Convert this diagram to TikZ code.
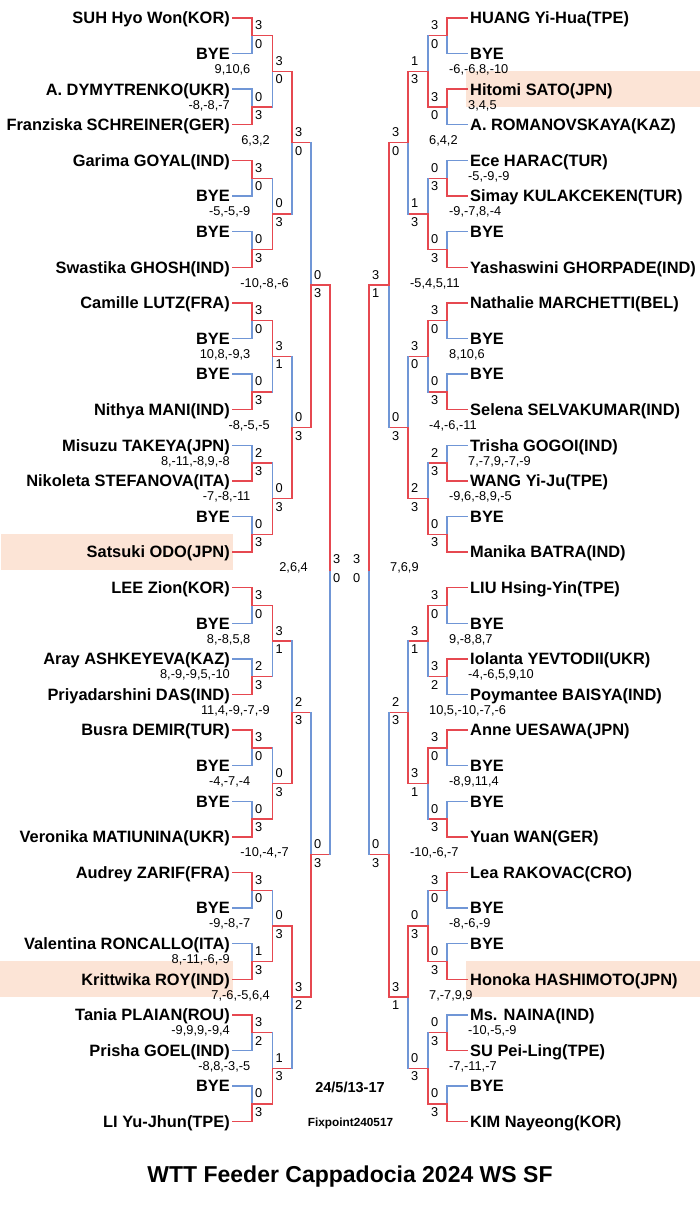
\documentclass[tikz,border=0pt]{standalone}
\usepackage{fontspec}
\setmainfont{Liberation Sans}
\definecolor{wred}{RGB}{230,72,80}
\definecolor{wblue}{RGB}{112,150,214}
\definecolor{hl}{RGB}{252,228,214}
\def\vL#1{\ifcase#1\or252\or272.5\or292\or311\or330\or349\fi}
\def\vR#1{\ifcase#1\or447\or428\or408\or389\or369\or350\fi}
\newcommand\brmatch[6]{%
 \pgfmathsetmacro\rt{#3*2^(#2)+(2^(#2-1)-1)/2}%
 \pgfmathsetmacro\rb{\rt+2^(#2-1)}%
 \pgfmathsetmacro\yt{18+35.6*\rt}%
 \pgfmathsetmacro\yb{18+35.6*\rb}%
 \pgfmathsetmacro\ym{(\yt+\yb)/2}%
 \edef\vv{\csname v#1\endcsname{#2}}%
 \edef\vn{\csname v#1\endcsname{\the\numexpr#2+1\relax}}%
 \ifnum#4>#5 \def\ct{wred}\def\cb{wblue}\else\def\ct{wblue}\def\cb{wred}\fi
 \coordinate (#1#2-#3t) at (\vv,\yt);
 \coordinate (#1#2-#3b) at (\vv,\yb);
 \coordinate (#1#2-#3) at (\vv,\ym);
 \ifnum#2=1
   \edef\pt{#1n\the\numexpr2*#3\relax.\ifx L#1east\else west\fi}%
   \edef\pb{#1n\the\numexpr2*#3+1\relax.\ifx L#1east\else west\fi}%
   \draw[ln,draw=\ct] (\pt) -- (#1#2-#3t);
   \draw[ln,draw=\cb] (\pb) -- (#1#2-#3b);
 \else
   \edef\pt{#1\the\numexpr#2-1\relax-\the\numexpr2*#3\relax}%
   \edef\pb{#1\the\numexpr#2-1\relax-\the\numexpr2*#3+1\relax}%
   \draw[ln,draw=wred] (\pt) -- (#1#2-#3t);
   \draw[ln,draw=wred] (\pb) -- (#1#2-#3b);
 \fi
 \draw[ln,draw=\cb] (#1#2-#3b) -- (#1#2-#3);
 \draw[ln,draw=\ct] (#1#2-#3t) -- (#1#2-#3);
 \ifx L#1
   \node[lab,anchor=west] (#1#2-#3sa) at ({\vv+3},{\ym-10.5}) {#4};
   \node[lab,anchor=west] (#1#2-#3sb) at ({\vv+3},{\ym+8}) {#5};
   \if\relax\detokenize{#6}\relax\else
     \node[lab,anchor=east] (#1#2-#3g) at ({\vv-22},{\ym-2.5}) {#6};
   \fi
 \else
   \node[lab,anchor=west] (#1#2-#3sa) at ({\vn+3},{\ym-10.5}) {#4};
   \node[lab,anchor=west] (#1#2-#3sb) at ({\vn+3},{\ym+8}) {#5};
   \if\relax\detokenize{#6}\relax\else
     \node[lab,anchor=west] (#1#2-#3g) at ({\vv+21},{\ym-2.5}) {#6};
   \fi
 \fi
}
\begin{document}
\begin{tikzpicture}[x=1pt,y=-1pt,
  nm/.style={font=\fontsize{16.4}{18}\selectfont\bfseries, inner xsep=3pt, inner ysep=0pt, text height=11.7pt, text depth=0pt},
  lab/.style={font=\fontsize{12.8}{14}\selectfont, inner sep=0pt, text height=9.2pt, text depth=0pt},
  ln/.style={line width=1.4pt, line cap=rect},
  info/.style={inner sep=0pt, text depth=0pt}]
\fill[white] (0,0) rectangle (700,1212);
\useasboundingbox (0,0) rectangle (700,1212);
% highlights
\fill[hl] (1,534.2) rectangle (233,570.2);
\fill[hl] (0,961.2) rectangle (233,997.2);
\fill[hl] (466,71.2) rectangle (700,107.2);
\fill[hl] (466,961.2) rectangle (700,997.2);
% names
\foreach \n [count=\i from 0] in {SUH Hyo Won(KOR),BYE,A. DYMYTRENKO(UKR),Franziska SCHREINER(GER),Garima GOYAL(IND),BYE,BYE,Swastika GHOSH(IND),Camille LUTZ(FRA),BYE,BYE,Nithya MANI(IND),Misuzu TAKEYA(JPN),Nikoleta STEFANOVA(ITA),BYE,Satsuki ODO(JPN),LEE Zion(KOR),BYE,Aray ASHKEYEVA(KAZ),Priyadarshini DAS(IND),Busra DEMIR(TUR),BYE,BYE,Veronika MATIUNINA(UKR),Audrey ZARIF(FRA),BYE,Valentina RONCALLO(ITA),Krittwika ROY(IND),Tania PLAIAN(ROU),Prisha GOEL(IND),BYE,LI Yu-Jhun(TPE)}
  \node[nm,anchor=east] (Ln\i) at (233,{18+35.6*\i}) {\n};
\foreach \n [count=\i from 0] in {HUANG Yi-Hua(TPE),BYE,Hitomi SATO(JPN),A. ROMANOVSKAYA(KAZ),Ece HARAC(TUR),Simay KULAKCEKEN(TUR),BYE,Yashaswini GHORPADE(IND),Nathalie MARCHETTI(BEL),BYE,BYE,Selena SELVAKUMAR(IND),Trisha GOGOI(IND),WANG Yi-Ju(TPE),BYE,Manika BATRA(IND),LIU Hsing-Yin(TPE),BYE,Iolanta YEVTODII(UKR),Poymantee BAISYA(IND),Anne UESAWA(JPN),BYE,BYE,Yuan WAN(GER),Lea RAKOVAC(CRO),BYE,BYE,Honoka HASHIMOTO(JPN),Ms. NAINA(IND),SU Pei-Ling(TPE),BYE,KIM Nayeong(KOR)}
  \node[nm,anchor=west] (Rn\i) at (467,{18+35.6*\i}) {\n};
% left side
\brmatch{L}{1}{0}{3}{0}{}
\brmatch{L}{1}{1}{0}{3}{-8,-8,-7}
\brmatch{L}{1}{2}{3}{0}{}
\brmatch{L}{1}{3}{0}{3}{}
\brmatch{L}{1}{4}{3}{0}{}
\brmatch{L}{1}{5}{0}{3}{}
\brmatch{L}{1}{6}{2}{3}{8,-11,-8,9,-8}
\brmatch{L}{1}{7}{0}{3}{}
\brmatch{L}{1}{8}{3}{0}{}
\brmatch{L}{1}{9}{2}{3}{8,-9,-9,5,-10}
\brmatch{L}{1}{10}{3}{0}{}
\brmatch{L}{1}{11}{0}{3}{}
\brmatch{L}{1}{12}{3}{0}{}
\brmatch{L}{1}{13}{1}{3}{8,-11,-6,-9}
\brmatch{L}{1}{14}{3}{2}{-9,9,9,-9,4}
\brmatch{L}{1}{15}{0}{3}{}
\brmatch{L}{2}{0}{3}{0}{9,10,6}
\brmatch{L}{2}{1}{0}{3}{-5,-5,-9}
\brmatch{L}{2}{2}{3}{1}{10,8,-9,3}
\brmatch{L}{2}{3}{0}{3}{-7,-8,-11}
\brmatch{L}{2}{4}{3}{1}{8,-8,5,8}
\brmatch{L}{2}{5}{0}{3}{-4,-7,-4}
\brmatch{L}{2}{6}{0}{3}{-9,-8,-7}
\brmatch{L}{2}{7}{1}{3}{-8,8,-3,-5}
\brmatch{L}{3}{0}{3}{0}{6,3,2}
\brmatch{L}{3}{1}{0}{3}{-8,-5,-5}
\brmatch{L}{3}{2}{2}{3}{11,4,-9,-7,-9}
\brmatch{L}{3}{3}{3}{2}{7,-6,-5,6,4}
\brmatch{L}{4}{0}{0}{3}{-10,-8,-6}
\brmatch{L}{4}{1}{0}{3}{-10,-4,-7}
\brmatch{L}{5}{0}{3}{0}{2,6,4}
% right side
\brmatch{R}{1}{0}{3}{0}{}
\brmatch{R}{1}{1}{3}{0}{3,4,5}
\brmatch{R}{1}{2}{0}{3}{-5,-9,-9}
\brmatch{R}{1}{3}{0}{3}{}
\brmatch{R}{1}{4}{3}{0}{}
\brmatch{R}{1}{5}{0}{3}{}
\brmatch{R}{1}{6}{2}{3}{7,-7,9,-7,-9}
\brmatch{R}{1}{7}{0}{3}{}
\brmatch{R}{1}{8}{3}{0}{}
\brmatch{R}{1}{9}{3}{2}{-4,-6,5,9,10}
\brmatch{R}{1}{10}{3}{0}{}
\brmatch{R}{1}{11}{0}{3}{}
\brmatch{R}{1}{12}{3}{0}{}
\brmatch{R}{1}{13}{0}{3}{}
\brmatch{R}{1}{14}{0}{3}{-10,-5,-9}
\brmatch{R}{1}{15}{0}{3}{}
\brmatch{R}{2}{0}{1}{3}{-6,-6,8,-10}
\brmatch{R}{2}{1}{1}{3}{-9,-7,8,-4}
\brmatch{R}{2}{2}{3}{0}{8,10,6}
\brmatch{R}{2}{3}{2}{3}{-9,6,-8,9,-5}
\brmatch{R}{2}{4}{3}{1}{9,-8,8,7}
\brmatch{R}{2}{5}{3}{1}{-8,9,11,4}
\brmatch{R}{2}{6}{0}{3}{-8,-6,-9}
\brmatch{R}{2}{7}{0}{3}{-7,-11,-7}
\brmatch{R}{3}{0}{3}{0}{6,4,2}
\brmatch{R}{3}{1}{0}{3}{-4,-6,-11}
\brmatch{R}{3}{2}{2}{3}{10,5,-10,-7,-6}
\brmatch{R}{3}{3}{3}{1}{7,-7,9,9}
\brmatch{R}{4}{0}{3}{1}{-5,4,5,11}
\brmatch{R}{4}{1}{0}{3}{-10,-6,-7}
\brmatch{R}{5}{0}{3}{0}{7,6,9}
% info texts
\node[info,font=\fontsize{14.5}{16}\selectfont\bfseries,text height=10.4pt] (date) at (350,1087) {24/5/13-17};
\node[info,font=\fontsize{11.8}{13}\selectfont\bfseries,text height=8.5pt] (fix) at (350.5,1122) {Fixpoint240517};
\node[info,font=\fontsize{23}{26}\selectfont\bfseries,text height=16.5pt] (title) at (350,1174) {WTT Feeder Cappadocia 2024 WS SF};
\end{tikzpicture}
\end{document}
